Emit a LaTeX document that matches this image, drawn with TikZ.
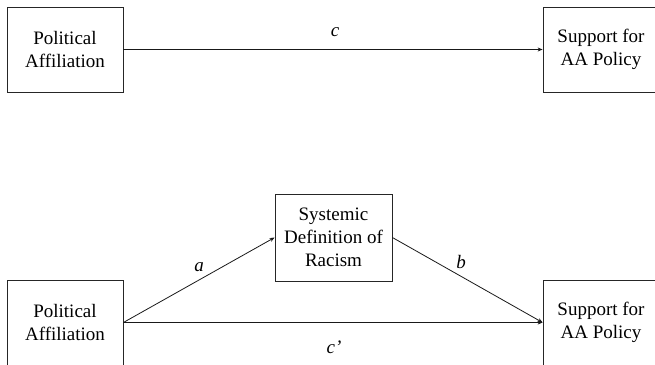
\documentclass[tikz,border=0pt]{standalone}
\usepackage{fontspec}
\setmainfont{Liberation Serif}
\usetikzlibrary{arrows.meta}
\tikzset{
  box/.style={draw=black!85, line width=0.8pt, minimum width=116pt, minimum height=85pt, inner sep=0pt, align=center, font=\fontsize{19}{23}\selectfont},
  conn/.style={draw=black!90, line width=0.8pt, -{Stealth[length=5pt,width=4pt]}},
  lab/.style={font=\fontsize{19}{23}\selectfont\itshape, inner sep=0pt}
}
\begin{document}
\begin{tikzpicture}[x=1pt,y=-1pt]
\clip (0,0) rectangle (655,364);
\fill[white] (0,0) rectangle (655,364);
% top model
\node[box] (pa1) at (65,49.5) {Political\\Affiliation};
\node[box] (sp1) at (601,49.5) {Support for\\AA Policy};
\draw[conn] (pa1.east) -- (sp1.west);
\node[lab] (c) at (335,32) {c};
% bottom model
\node[box, minimum width=117pt, minimum height=87pt] (sd) at (333.5,237.5) {Systemic\\Definition of\\Racism};
\node[box] (pa2) at (65,322.5) {Political\\Affiliation};
\node[box] (sp2) at (601,322.5) {Support for\\AA Policy};
\draw[conn] (pa2.east) -- (sd.west);
\draw[conn] (sd.east) -- (sp2.west);
\draw[conn] (pa2.east) -- (sp2.west);
\node[lab] (a) at (199,267) {a};
\node[lab] (b) at (461,262) {b};
\node[lab] (cp) at (334,347) {c’};
\end{tikzpicture}
\end{document}
